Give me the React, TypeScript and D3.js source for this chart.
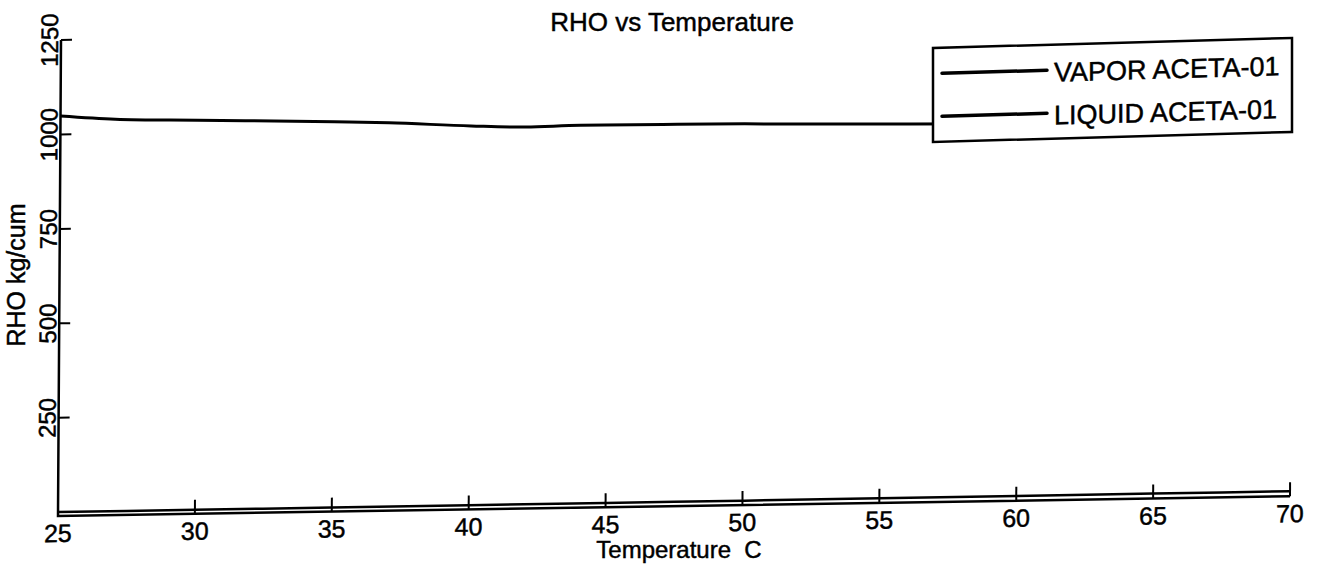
import React from "react";
import * as d3 from "d3";

// temperature (C) and density (kg/cum)
const liquidTemp = [25, 27, 30, 35, 37, 40, 42, 44, 47, 50, 53, 56, 60, 65, 70];
const liquidRho = [1049, 1038, 1032, 1022, 1017, 1005, 1000, 1002, 1001, 999, 995, 992, 988, 983, 978];

const vaporTemp = [25, 30, 35, 40, 45, 50, 55, 60, 65, 70];
const vaporRho = [0.4, 0.6, 0.8, 1.0, 1.3, 1.6, 2.0, 2.4, 2.9, 3.4];

const xTicks = [25, 30, 35, 40, 45, 50, 55, 60, 65, 70];
const yTicks = [250, 500, 750, 1000, 1250];

const seriesNames = ["VAPOR ACETA-01", "LIQUID ACETA-01"];

const W = 1321;
const H = 575;
const font = "'Liberation Sans', Arial, Helvetica, sans-serif";
// scanned text looks a bit heavier than plain regular
const ink = { stroke: "black", strokeWidth: 0.45 };

export default function App() {
  const x0 = 58;
  const y0 = 516;

  const xScale = d3.scaleLinear().domain([25, 70]).range([x0, 1290]);
  const yScale = d3.scaleLinear().domain([-10, 1250]).range([y0, 40]);

  const line = d3
    .line<[number, number]>()
    .x((d) => xScale(d[0]))
    .y((d) => yScale(d[1]))
    .curve(d3.curveMonotoneX);

  const liquid = liquidTemp.map((t, i) => [t, liquidRho[i]] as [number, number]);
  const vapor = vaporTemp.map((t, i) => [t, vaporRho[i]] as [number, number]);

  // the scan is slightly sheared, so the plot area is too
  const shear = `translate(${x0},${y0}) matrix(1,-0.016,-0.0063,1,0,0) translate(${-x0},${-y0})`;

  return (
    <svg
      width={W}
      height={H}
      style={{ position: "absolute", left: 0, top: 0, background: "white" }}
      fontFamily={font}
    >
      <rect width={W} height={H} fill="white" />

      <text x={672} y={31} fontSize={26} textAnchor="middle" {...ink}>
        RHO vs Temperature
      </text>

      <g transform={shear}>
        {/* axes */}
        <path
          d={`M${x0},${yScale(1250)} V${y0} H${xScale(70)}`}
          fill="none"
          stroke="black"
          strokeWidth={2.5}
        />
        {xTicks.slice(1).map((t) => (
          <g key={t} transform={`translate(${xScale(t)},${y0})`}>
            <path d="M0,0 v-14" stroke="black" strokeWidth={2} />
          </g>
        ))}
        {xTicks.map((t) => (
          <text key={t} x={xScale(t)} y={y0 + 26} fontSize={25} textAnchor="middle" {...ink}>
            {t}
          </text>
        ))}
        {yTicks.map((t) => (
          <g key={t}>
            <path d={`M${x0},${yScale(t)} h11`} stroke="black" strokeWidth={2} />
            <text
              transform={`translate(${x0 - 3},${yScale(t)}) rotate(-90)`}
              fontSize={24}
              textAnchor="middle"
              {...ink}
            >
              {t}
            </text>
          </g>
        ))}

        {/* series */}
        <path d={line(vapor) ?? ""} fill="none" stroke="black" strokeWidth={2.5} />
        <path d={line(liquid) ?? ""} fill="none" stroke="black" strokeWidth={3} />
      </g>

      <text
        x={679}
        y={558}
        fontSize={24}
        textAnchor="middle"
        style={{ whiteSpace: "pre" }}
        {...ink}
      >
        {"Temperature  C"}
      </text>
      <text transform="translate(25,275) rotate(-90)" fontSize={25} textAnchor="middle" {...ink}>
        RHO kg/cum
      </text>

      {/* legend */}
      <g transform="translate(933,48) matrix(1,-0.028,0,1,0,0)">
        <rect x={0} y={0} width={359} height={94} fill="white" stroke="black" strokeWidth={2.5} />
        {seriesNames.map((name, i) => (
          <g key={name} transform={`translate(0,${i * 43})`}>
            <path d="M9,25.5 H114" stroke="black" strokeWidth={3.5} strokeLinecap="round" />
            <text x={121} y={37} fontSize={27} {...ink}>
              {name}
            </text>
          </g>
        ))}
      </g>
    </svg>
  );
}
